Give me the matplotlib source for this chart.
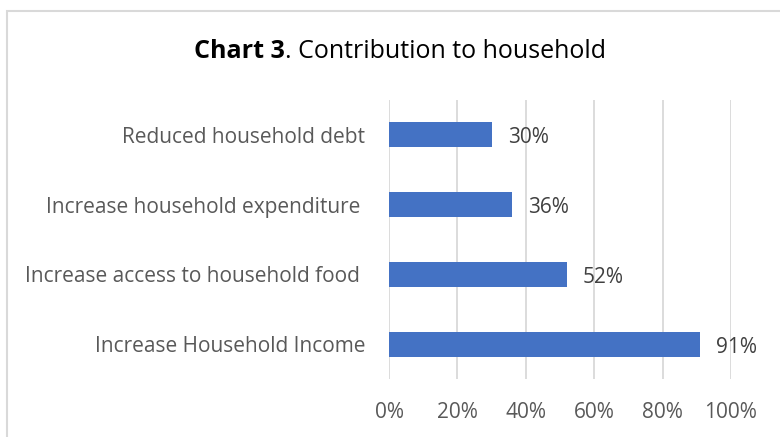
import matplotlib
matplotlib.use("Agg")
import matplotlib.pyplot as plt
from matplotlib.patches import Rectangle
from matplotlib.transforms import offset_copy

categories = ["Increase Household Income", "Increase access to household food ",
              "Increase household expenditure ", "Reduced household debt"]
values = [91, 52, 36, 30]
ticks = [0, 20, 40, 60, 80, 100]
tick_labels = ["0%", "20%", "40%", "60%", "80%", "100%"]

plt.rcParams['font.family'] = ['Open Sans', 'DejaVu Sans']

W, H = 780, 437
fig = plt.figure(figsize=(W/100, H/100), dpi=100)
fig.patches.append(Rectangle((7/W, -0.1), 1.0, (H-11)/H + 0.1, transform=fig.transFigure,
                             fill=False, edgecolor="#D9D9D9", linewidth=1.5))

ax = fig.add_axes([389/W, 1-379/H, (731-389)/W, (379-100)/H])
ax.barh(range(len(categories)), values, height=0.36, color="#4472C4", zorder=3)
lab_tr = offset_copy(ax.transData, fig=fig, x=16, y=-3, units="dots")
for i, v in enumerate(values):
    ax.text(v, i, f"{v}%", va="center", ha="left", fontsize=15, color="#404040",
            transform=lab_tr)
ax.set_xlim(0, 100)
ax.set_ylim(-0.5, 3.5)
ax.set_xticks(ticks)
ax.set_xticklabels(tick_labels, fontsize=15, color="#595959")
ax.set_yticks(range(len(categories)))
ax.set_yticklabels(categories, fontsize=15, color="#595959")
ax.tick_params(axis="both", length=0)
ax.tick_params(axis="y", pad=17)
ax.tick_params(axis="x", pad=16.5)
ax.grid(axis="x", color="#D9D9D9", linewidth=1.3, zorder=0)
for s in ax.spines.values():
    s.set_visible(False)

t1 = fig.text(0, 1-51/H, "Chart 3", fontweight="bold", fontsize=18, ha="left", va="center", color="black")
t2 = fig.text(0, 1-51/H, ". Contribution to household", fontsize=18, ha="left", va="center", color="black")
fig.canvas.draw()
r = fig.canvas.get_renderer()
w1 = t1.get_window_extent(r).width
w2 = t2.get_window_extent(r).width
x0 = 400 - (w1 + w2) / 2
t1.set_x(x0 / W)
t2.set_x((x0 + w1) / W)

fig.savefig("out.png", dpi=100)
